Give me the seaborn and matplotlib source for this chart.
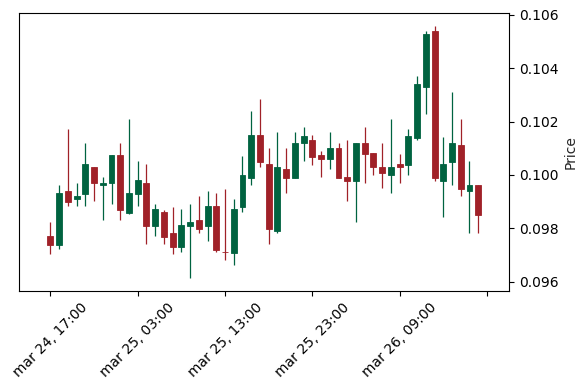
import seaborn as sns
import matplotlib
matplotlib.use('Agg')
import matplotlib.pyplot as plt
import numpy as np
import pandas as pd


# Hourly OHLC values
times = pd.date_range('2024-03-24 17:00', periods=50, freq='h')
opens = [0.09771, 0.09739, 0.09940, 0.09908, 0.09930, 0.10031, 0.09961, 0.09968, 0.10073, 0.09856,
         0.09930, 0.09970, 0.09810, 0.09861, 0.09783, 0.09731, 0.09810, 0.09831, 0.09810, 0.09884,
         0.09712, 0.09709, 0.09881, 0.09990, 0.10150, 0.10041, 0.09791, 0.10023, 0.09990, 0.10118,
         0.10131, 0.10073, 0.10058, 0.10101, 0.09993, 0.09979, 0.10120, 0.10083, 0.10029, 0.09998,
         0.10041, 0.10039, 0.10140, 0.10328, 0.10540, 0.09979, 0.10049, 0.10111, 0.09938, 0.09964]
highs = [0.09823, 0.09961, 0.10171, 0.09969, 0.10119, 0.10031, 0.09991, 0.10073, 0.10119, 0.10210,
         0.10051, 0.10041, 0.09890, 0.09869, 0.09881, 0.09871, 0.09890, 0.09920, 0.09939, 0.09931,
         0.09949, 0.09909, 0.10071, 0.10239, 0.10286, 0.10099, 0.10159, 0.10099, 0.10159, 0.10179,
         0.10149, 0.10090, 0.10159, 0.10119, 0.10130, 0.10120, 0.10179, 0.10083, 0.10119, 0.10210,
         0.10080, 0.10171, 0.10370, 0.10540, 0.10559, 0.10143, 0.10310, 0.10210, 0.10051, 0.09964]
lows = [0.09703, 0.09721, 0.09883, 0.09883, 0.09883, 0.09901, 0.09830, 0.09890, 0.09830, 0.09853,
        0.09883, 0.09740, 0.09770, 0.09740, 0.09703, 0.09710, 0.09614, 0.09783, 0.09753, 0.09710,
        0.09681, 0.09661, 0.09860, 0.09961, 0.10029, 0.09740, 0.09781, 0.09931, 0.09990, 0.10051,
        0.10039, 0.09991, 0.10021, 0.09990, 0.09901, 0.09823, 0.09969, 0.09999, 0.09950, 0.09931,
        0.09969, 0.09999, 0.10130, 0.10228, 0.09979, 0.09843, 0.09961, 0.09920, 0.09781, 0.09781]
closes = [0.09739, 0.09934, 0.09900, 0.09921, 0.10041, 0.09968, 0.09971, 0.10073, 0.09869, 0.09934,
          0.09981, 0.09810, 0.09873, 0.09769, 0.09731, 0.09811, 0.09824, 0.09799, 0.09884, 0.09720,
          0.09710, 0.09873, 0.10000, 0.10150, 0.10049, 0.09799, 0.10031, 0.09990, 0.10120, 0.10144,
          0.10069, 0.10058, 0.10101, 0.09990, 0.09979, 0.10120, 0.10080, 0.10028, 0.10009, 0.10029,
          0.10029, 0.10144, 0.10341, 0.10530, 0.09989, 0.10041, 0.10119, 0.09949, 0.09961, 0.09851]

upColor = '#006340'
downColor = '#a02128'

df = pd.DataFrame({'Open': opens, 'High': highs, 'Low': lows, 'Close': closes}, index=times)
df['idx'] = np.arange(len(df))
df['color'] = np.where(df['Close'] >= df['Open'], upColor, downColor)
df['bottom'] = df[['Open', 'Close']].min(axis=1)
df['height'] = (df['Close'] - df['Open']).abs()


sns.set_style('ticks')
plt.rcParams['font.family'] = ['DejaVu Sans']

fig = plt.figure(figsize=(5.88, 3.9), dpi=100)
ax = fig.add_axes([0.033, 0.254, 0.833, 0.712])

# wicks then bodies
ax.vlines(df['idx'], df['Low'], df['High'], colors=df['color'], linewidth=0.9, zorder=2)
ax.bar(df['idx'], df['height'], bottom=df['bottom'], width=0.68, color=df['color'],
       edgecolor=df['color'], linewidth=0.6, zorder=3)

# x axis: index based ticks every 10 candles
ax.set_xlim(-3.55, 52.55)
tickPos = np.arange(0, 51, 10)
tickLabels = []
for p in tickPos:
    if p < len(times):
        t = times[p]
        tickLabels.append(f"{t.strftime('%b').lower()} {t.day}, {t:%H:%M}")
    else:
        tickLabels.append('')
ax.set_xticks(tickPos)
ax.set_xticklabels(tickLabels, rotation=45, fontsize=10)

# y axis on the right
ax.set_ylim(0.09565, 0.10606)
ax.set_yticks(np.arange(0.096, 0.1061, 0.002))
ax.yaxis.set_major_formatter(matplotlib.ticker.FormatStrFormatter('%.3f'))
ax.yaxis.tick_right()
ax.yaxis.set_label_position('right')
ax.set_ylabel('Price', fontsize=10)
ax.tick_params(axis='both', labelsize=10, length=3.5, width=0.8, colors='black')
for s in ax.spines.values():
    s.set_color('black')
    s.set_linewidth(0.8)

fig.savefig('out.png', dpi=100)
